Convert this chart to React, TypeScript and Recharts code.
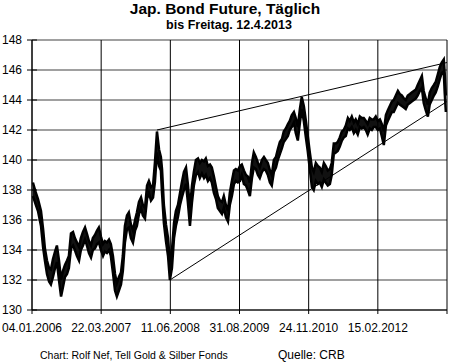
import React from "react";
import { ComposedChart, Area, XAxis, YAxis, CartesianGrid, ReferenceLine } from "recharts";

// trading-day index since 04.01.2006
const days = [4,17,26,39,48,56,65,74,82,91,100,108,117,126,134,143,152,160,169,178,186,195,204,212,221,230,238,247,256,264,273,282,290,299,308,316,325,334,342,351,360,368,377,386,394,403,412,420,429,438,447,455,464,473,481,490,499,507,516,525,533,542,551,559,564,572,581,590,598,607,616,624,633,642,650,659,668,676,685,694,702,711,720,728,737,746,754,763,772,780,789,798,806,815,824,832,841,850,858,867,876,884,893,902,910,919,928,936,945,954,962,971,980,988,997,1006,1014,1023,1032,1040,1049,1058,1066,1075,1084,1092,1101,1110,1118,1127,1136,1144,1153,1162,1170,1179,1188,1196,1205,1214,1222,1231,1240,1248,1257,1266,1274,1283,1292,1300,1309,1318,1326,1335,1344,1352,1361,1370,1378,1387,1396,1404,1413,1422,1430,1439,1448,1456,1465,1474,1482,1491,1500,1509,1517,1526,1535,1543,1552,1561,1569,1578,1587,1595,1604,1613,1621,1630,1639,1647,1656,1665,1673,1682,1691,1699,1708,1717,1725,1734,1743,1751,1760,1769,1777,1786,1790,1795];

const lows = [137.6,137.0,136.6,135.6,134.2,133.3,132.4,131.9,131.7,132.2,132.8,133.2,132.0,130.9,131.5,132.2,132.4,132.8,134.1,134.3,134.0,133.6,133.3,134.0,134.3,134.7,134.3,133.8,133.5,134.0,134.1,134.4,134.5,134.0,133.6,133.9,133.8,134.0,133.6,132.5,131.3,130.9,131.3,131.7,132.6,134.5,135.4,135.5,134.8,134.5,135.3,135.6,136.4,136.8,136.3,136.1,137.4,137.8,137.3,137.5,138.5,140.5,139.6,139.3,137.8,135.8,134.6,133.6,132.0,132.8,134.8,135.6,136.2,137.0,137.5,138.0,138.4,137.2,135.6,137.2,138.3,139.0,139.2,138.8,139.1,138.8,139.0,138.6,138.8,138.5,137.8,137.4,136.8,136.6,136.4,136.8,136.2,135.9,137.0,137.6,138.4,138.6,138.5,138.6,139.0,138.4,138.3,138.0,137.6,138.8,139.5,139.4,139.0,138.8,139.2,139.4,139.3,139.0,138.5,138.3,139.2,139.5,140.0,140.4,140.8,141.2,141.4,141.6,142.0,142.2,142.5,141.8,141.3,142.5,143.4,142.6,141.5,140.6,139.4,138.2,138.0,138.6,138.4,138.5,138.2,138.7,138.5,138.3,138.4,139.0,140.4,140.5,140.6,140.9,141.3,141.5,141.6,142.1,142.0,142.2,141.8,142.0,141.7,142.2,142.1,142.2,142.0,141.7,142.1,142.0,142.2,142.2,142.0,142.1,141.6,141.0,142.3,142.6,142.9,143.2,143.2,143.5,143.8,143.7,143.6,143.5,143.4,143.7,143.8,143.9,144.0,144.1,144.3,144.6,144.8,143.8,143.3,142.9,143.7,144.0,144.3,144.5,144.9,145.4,145.8,145.9,144.5,143.2];

const highs = [138.5,137.8,137.4,136.6,135.4,134.1,133.3,132.8,132.7,133.4,133.9,134.3,133.3,132.0,132.6,133.0,133.3,133.6,135.1,135.2,134.8,134.5,134.2,134.8,135.2,135.5,135.1,134.6,134.3,134.8,135.0,135.3,135.5,134.9,134.4,134.6,134.5,134.7,134.4,133.6,132.4,131.8,132.2,132.5,133.6,135.6,136.3,136.5,135.7,135.3,136.0,136.5,137.2,137.5,137.0,136.8,138.3,138.6,138.2,138.3,139.8,141.9,140.7,140.2,139.4,137.0,135.7,134.8,133.2,134.0,135.8,136.6,137.0,137.8,138.5,139.2,139.5,138.4,136.8,138.3,139.2,140.0,140.1,139.8,140.0,139.9,140.1,139.6,139.7,139.5,138.9,138.2,137.6,137.3,137.2,137.6,137.0,136.6,137.8,138.6,139.3,139.4,139.3,139.6,139.7,139.3,139.0,138.9,138.5,139.8,140.5,140.2,139.8,139.5,140.0,140.2,140.0,139.8,139.3,139.0,140.0,140.2,140.7,141.2,141.4,141.9,142.1,142.4,142.6,143.0,143.2,142.8,142.2,143.4,144.2,143.6,142.6,141.6,140.5,139.5,139.2,139.8,139.6,139.5,139.2,139.8,139.6,139.3,139.4,139.8,141.1,141.1,141.2,141.5,141.9,142.0,142.3,142.8,142.6,142.9,142.5,142.7,142.4,142.9,142.8,142.8,142.6,142.4,142.8,142.7,142.7,142.9,142.6,142.7,142.4,141.9,143.0,143.3,143.6,143.9,144.0,144.3,144.6,144.4,144.3,144.1,144.0,144.3,144.4,144.5,144.6,144.7,145.0,145.3,145.6,144.6,144.1,143.7,144.5,144.8,145.0,145.2,145.7,146.2,146.5,146.7,145.8,144.3];

const xTicks = [0, 300, 600, 900, 1200, 1500, 1800];
const xTickLabels = ["04.01.2006", "22.03.2007", "11.06.2008", "31.08.2009", "24.11.2010", "15.02.2012", ""];
const yTicks = [130, 132, 134, 136, 138, 140, 142, 144, 146, 148];

const upperTrend = [{ x: 542, y: 142.0 }, { x: 1800, y: 146.5 }];
const lowerTrend = [{ x: 598, y: 132.0 }, { x: 1800, y: 143.9 }];

const title = "Jap. Bond Future, Täglich";
const subtitle = "bis Freitag. 12.4.2013";
const footerLeft = "Chart: Rolf Nef, Tell Gold & Silber Fonds";
const footerRight = "Quelle: CRB";

const data = days.map((d, i) => ({ day: d, range: [lows[i], highs[i]] }));

const FONT = "'Liberation Sans', Arial, sans-serif";

const YTick = (props: any) => {
  const { x, y, payload } = props;
  return (
    <g>
      <line x1={x - 5} x2={x + 5} y1={y} y2={y} stroke="#000" strokeWidth={1} />
      <text x={x - 10} y={y + 4} textAnchor="end" fontSize={12} fontFamily={FONT} fill="#000">
        {payload.value}
      </text>
    </g>
  );
};

const XTick = (props: any) => {
  const { x, y, index } = props;
  return (
    <g>
      <line x1={x} x2={x} y1={y} y2={y + 4} stroke="#000" strokeWidth={1} />
      <text x={x} y={y + 22} textAnchor="middle" fontSize={12} fontFamily={FONT} fill="#000">
        {xTickLabels[index]}
      </text>
    </g>
  );
};

export default function App() {
  return (
    <div style={{ position: "absolute", left: 0, top: 0, width: 450, height: 363, background: "#fff" }}>
      <ComposedChart
        width={450}
        height={363}
        data={data}
        margin={{ top: 40, right: 3, bottom: 23, left: 0 }}
      >
        <CartesianGrid horizontal={true} vertical={false} stroke="#808080" strokeWidth={1.5} />
        {xTicks.map((t) => (
          <ReferenceLine key={t} x={t} stroke="#000" strokeWidth={1} />
        ))}
        <XAxis
          dataKey="day"
          type="number"
          domain={[0, 1800]}
          ticks={xTicks}
          interval={0}
          height={30}
          tickSize={0}
          tickMargin={0}
          tickLine={false}
          axisLine={{ stroke: "#000" }}
          tick={<XTick />}
        />
        <YAxis
          type="number"
          domain={[130, 148]}
          ticks={yTicks}
          interval={0}
          width={32}
          tickSize={0}
          tickMargin={0}
          tickLine={false}
          axisLine={{ stroke: "#000" }}
          tick={<YTick />}
        />
        <Area
          dataKey="range"
          type="linear"
          stroke="#000"
          strokeWidth={2.5}
          fill="#111"
          fillOpacity={1}
          isAnimationActive={false}
          dot={false}
          activeDot={false}
        />
        <ReferenceLine segment={upperTrend} stroke="#000" strokeWidth={1} ifOverflow="visible" />
        <ReferenceLine segment={lowerTrend} stroke="#000" strokeWidth={1} ifOverflow="visible" />
      </ComposedChart>
      <svg width={450} height={363} style={{ position: "absolute", left: 0, top: 0, pointerEvents: "none" }}>
        <text x={225} y={14} textAnchor="middle" fontSize={15.5} fontWeight="bold" fontFamily={FONT} fill="#000">
          {title}
        </text>
        <text x={229} y={29} textAnchor="middle" fontSize={12.5} fontWeight="bold" fontFamily={FONT} fill="#000">
          {subtitle}
        </text>
        <text x={40} y={359} fontSize={10.5} fontFamily={FONT} fill="#000">
          {footerLeft}
        </text>
        <text x={278} y={359} fontSize={12} fontFamily={FONT} fill="#000">
          {footerRight}
        </text>
      </svg>
    </div>
  );
}
